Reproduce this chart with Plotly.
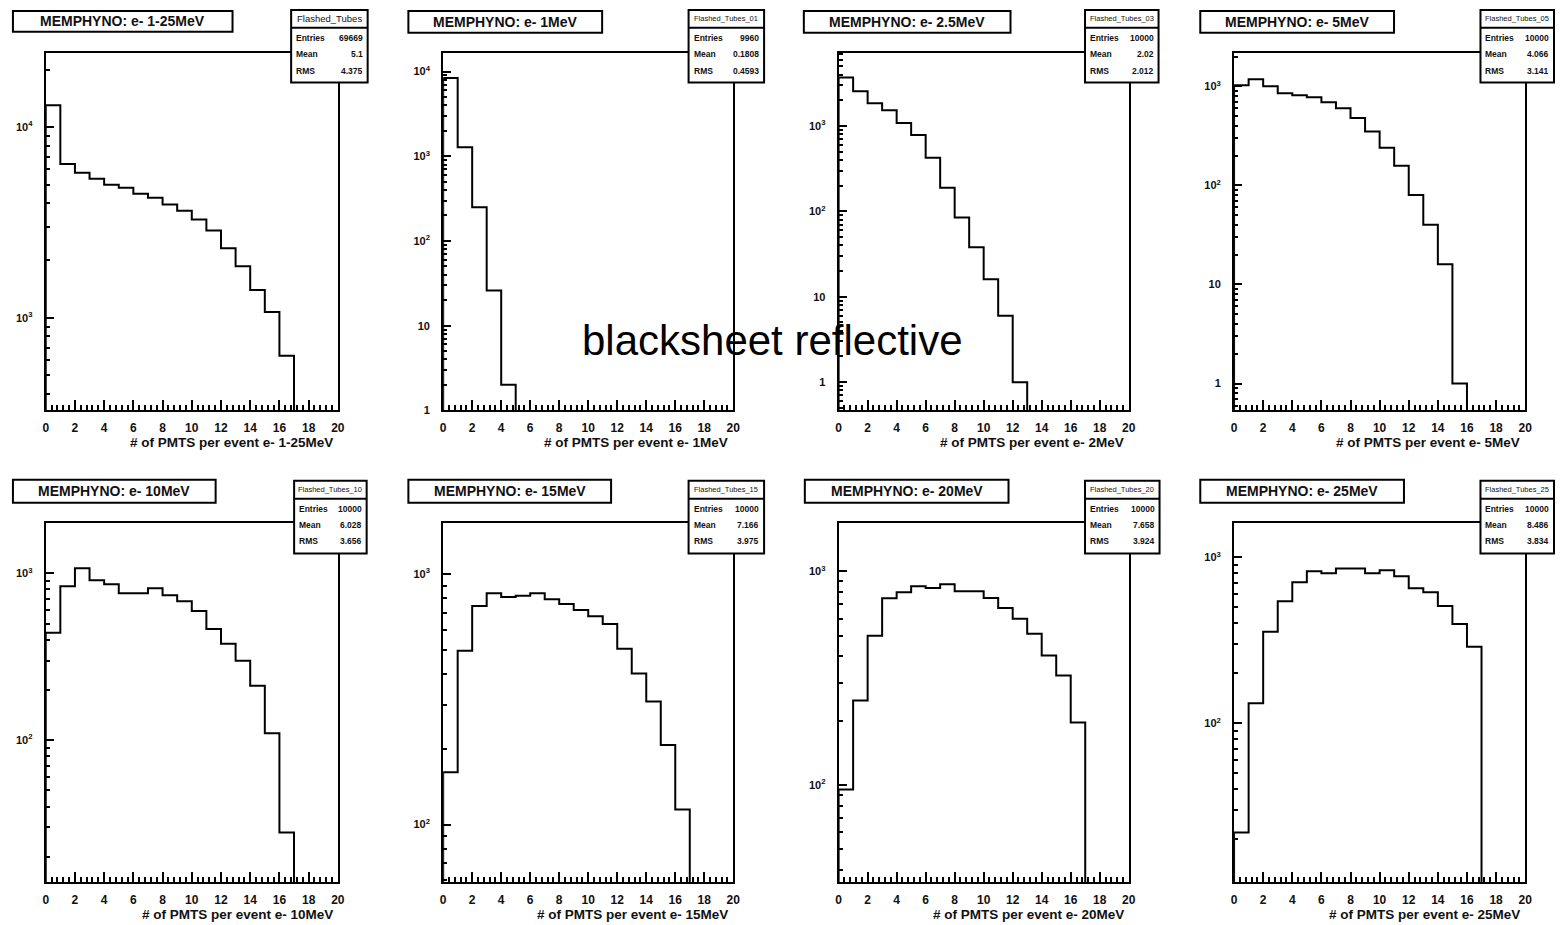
import numpy as np
import plotly.graph_objects as go

W, H = 1561, 925

# ---------------- data ----------------
bin_edges = list(range(0, 21))
x_tick_vals = list(range(0, 21, 2))
x_tick_text = [str(v) for v in x_tick_vals]

panel_titles = ["MEMPHYNO: e- 1-25MeV", "MEMPHYNO: e- 1MeV", "MEMPHYNO: e- 2.5MeV", "MEMPHYNO: e- 5MeV",
                "MEMPHYNO: e- 10MeV", "MEMPHYNO: e- 15MeV", "MEMPHYNO: e- 20MeV", "MEMPHYNO: e- 25MeV"]
x_titles = ["# of PMTS per event e- 1-25MeV", "# of PMTS per event e- 1MeV", "# of PMTS per event e- 2MeV",
            "# of PMTS per event e- 5MeV", "# of PMTS per event e- 10MeV", "# of PMTS per event e- 15MeV",
            "# of PMTS per event e- 20MeV", "# of PMTS per event e- 25MeV"]
stat_names = ["Flashed_Tubes", "Flashed_Tubes_01", "Flashed_Tubes_03", "Flashed_Tubes_05",
              "Flashed_Tubes_10", "Flashed_Tubes_15", "Flashed_Tubes_20", "Flashed_Tubes_25"]
stat_entries = ["69669", "9960", "10000", "10000", "10000", "10000", "10000", "10000"]
stat_means = ["5.1", "0.1808", "2.02", "4.066", "6.028", "7.166", "7.658", "8.486"]
stat_rms = ["4.375", "0.4593", "2.012", "3.141", "3.656", "3.975", "3.924", "3.834"]

counts_1_25MeV = [13020, 6410, 5760, 5355, 4990, 4810, 4475, 4270, 3925, 3650, 3280, 2873, 2315, 1868, 1400, 1075, 634, 0, 0, 0]
counts_1MeV = [8406, 1275, 251, 26, 2, 0, 0, 0, 0, 0, 0, 0, 0, 0, 0, 0, 0, 0, 0, 0]
counts_2_5MeV = [3700, 2555, 1850, 1535, 1084, 785, 425, 190, 85, 38, 16, 6, 1, 0, 0, 0, 0, 0, 0, 0]
counts_5MeV = [1023, 1176, 1000, 851, 812, 776, 691, 600, 480, 350, 240, 158, 80, 40, 16, 1, 0, 0, 0, 0]
counts_10MeV = [440, 837, 1071, 908, 861, 760, 760, 814, 740, 681, 594, 464, 378, 299, 212, 110, 28, 0, 0, 0]
counts_15MeV = [162, 495, 747, 840, 810, 820, 840, 795, 760, 720, 680, 633, 504, 401, 310, 208, 115, 0, 0, 0]
counts_20MeV = [95, 248, 499, 748, 798, 851, 834, 870, 807, 807, 750, 673, 600, 510, 403, 325, 196, 0, 0, 0]
counts_25MeV = [22, 132, 356, 545, 708, 825, 802, 859, 859, 802, 836, 770, 652, 617, 509, 397, 289, 0, 0, 0]

all_counts = [counts_1_25MeV, counts_1MeV, counts_2_5MeV, counts_5MeV,
              counts_10MeV, counts_15MeV, counts_20MeV, counts_25MeV]

# ---------------- layout (pixels) ----------------
frame_cols = [(43, 337), (443, 735), (841, 1133), (1239, 1532)]
frame_rows = [(53, 413), (526, 888)]
y_log_ranges = [(2.516, 4.39), (0.0, 4.224), (-0.33, 3.86), (-0.27, 3.34),
                (1.149, 3.304), (1.77, 3.206), (1.544, 3.228), (1.042, 3.21)]
title_boxes = [(10, 231, 11, 32), (408, 603, 11, 33), (806, 1014, 11, 33), (1205, 1400, 11, 33),
               (10, 214, 483, 506), (408, 612, 483, 506), (807, 1012, 483, 506), (1205, 1410, 483, 506)]
stat_boxes = [(290, 367, 10, 83), (690, 766, 10, 83), (1089, 1163, 10, 83), (1487, 1561, 10, 83),
              (293, 366, 484, 557), (690, 766, 484, 557), (1089, 1164, 484, 557), (1487, 1561, 484, 557)]

FONT = "Liberation Sans"


def px(x):
    return x / W


def py(y):
    return 1 - y / H


fig = go.Figure()
layout = dict(width=W, height=H, margin=dict(l=0, r=0, t=0, b=0),
              paper_bgcolor="white", plot_bgcolor="white", showlegend=False)
shapes = []
annotations = []

for i in range(8):
    r, c = divmod(i, 4)
    l, rr = frame_cols[c]
    t, b = frame_rows[r]
    ax = "" if i == 0 else str(i + 1)
    lo, hi = y_log_ranges[i]
    counts = all_counts[i]

    # step histogram
    floor = 10 ** (lo - 1)
    k = max(j for j, v in enumerate(counts) if v > 0)
    xs = [bin_edges[0]] + bin_edges[:k + 2] + [bin_edges[k + 1]]
    ys = [floor] + counts[:k + 1] + [counts[k], floor]
    fig.add_trace(go.Scatter(x=xs, y=ys, mode="lines", line=dict(color="black", width=2, shape="hv"),
                             xaxis="x" + ax, yaxis="y" + ax, hoverinfo="skip"))

    major = []
    major_text = []
    for e in range(-1, 6):
        if lo - 1e-6 <= e <= hi:
            major.append(10 ** e)
            if e == 0:
                major_text.append("1")
            elif e == 1:
                major_text.append("10")
            else:
                major_text.append("10<sup>%d</sup>" % e)
    minor = [m * 10 ** e for e in range(-2, 6) for m in range(2, 10)
             if lo <= np.log10(m * 10 ** e) <= hi]

    layout["xaxis" + ax] = dict(
        domain=[px(l), px(rr)], anchor="y" + ax, range=[0, 20],
        showline=True, linecolor="black", linewidth=2, mirror=True,
        showgrid=False, zeroline=False,
        ticks="inside", ticklen=10, tickwidth=1.5, tickcolor="black",
        tickmode="array", tickvals=x_tick_vals, ticktext=x_tick_text,
        ticklabelstandoff=5,
        tickfont=dict(family=FONT, size=12, color="#111", weight="bold"),
        minor=dict(ticks="inside", ticklen=5, tickwidth=1.5, tickcolor="black",
                   tickmode="linear", tick0=0, dtick=0.4, showgrid=False),
    )
    layout["yaxis" + ax] = dict(
        domain=[py(b), py(t)], anchor="x" + ax, type="log", range=[lo, hi],
        showline=True, linecolor="black", linewidth=2, mirror=True,
        showgrid=False, zeroline=False,
        ticks="inside", ticklen=8, tickwidth=1.5, tickcolor="black",
        tickmode="array", tickvals=major, ticktext=major_text,
        ticklabelstandoff=9,
        tickfont=dict(family=FONT, size=11, color="#111", weight="bold"),
        minor=dict(ticks="inside", ticklen=4, tickwidth=1.5, tickcolor="black",
                   tickmode="array", tickvals=minor, showgrid=False),
    )

    # x-axis title (right aligned)
    annotations.append(dict(x=px(rr - 3), y=py(b + 32), xref="paper", yref="paper",
                            xanchor="right", yanchor="middle", showarrow=False,
                            text=x_titles[i], font=dict(family=FONT, size=13.5, color="#111", weight="bold")))

    # title box
    x0, x1, y0, y1 = title_boxes[i]
    shapes.append(dict(type="rect", xref="paper", yref="paper", x0=px(x0), x1=px(x1), y0=py(y0), y1=py(y1),
                       line=dict(color="black", width=2), fillcolor="white", layer="above"))
    annotations.append(dict(x=px((x0 + x1) / 2), y=py((y0 + y1) / 2), xref="paper", yref="paper",
                            xanchor="center", yanchor="middle", showarrow=False,
                            text=panel_titles[i], font=dict(family=FONT, size=14, color="#111", weight="bold")))

    # stats box
    x0, x1, y0, y1 = stat_boxes[i]
    shapes.append(dict(type="rect", xref="paper", yref="paper", x0=px(x0), x1=px(x1), y0=py(y0), y1=py(y1),
                       line=dict(color="black", width=2), fillcolor="white", layer="above"))
    shapes.append(dict(type="line", xref="paper", yref="paper", x0=px(x0), x1=px(x1), y0=py(y0 + 18), y1=py(y0 + 18),
                       line=dict(color="black", width=2), layer="above"))
    hsize = 9.5 if len(stat_names[i]) < 15 else 7.5
    annotations.append(dict(x=px((x0 + x1) / 2), y=py(y0 + 9), xref="paper", yref="paper",
                            xanchor="center", yanchor="middle", showarrow=False,
                            text=stat_names[i], font=dict(family=FONT, size=hsize, color="#111")))
    for j, (lab, val) in enumerate([("Entries", stat_entries[i]), ("Mean", stat_means[i]), ("RMS", stat_rms[i])]):
        yy = y0 + 28 + 16.5 * j
        annotations.append(dict(x=px(x0 + 3), y=py(yy), xref="paper", yref="paper",
                                xanchor="left", yanchor="middle", showarrow=False,
                                text=lab, font=dict(family=FONT, size=8.5, color="#111", weight="bold")))
        annotations.append(dict(x=px(x1 - 3), y=py(yy), xref="paper", yref="paper",
                                xanchor="right", yanchor="middle", showarrow=False,
                                text=val, font=dict(family=FONT, size=8.5, color="#111", weight="bold")))

# central overlay text
annotations.append(dict(x=px(774), y=py(343), xref="paper", yref="paper", xanchor="center", yanchor="middle",
                        showarrow=False, text="blacksheet reflective",
                        font=dict(family=FONT, size=42, color="black")))

layout["shapes"] = shapes
layout["annotations"] = annotations
fig.update_layout(**layout)
fig.write_html("out.html")
